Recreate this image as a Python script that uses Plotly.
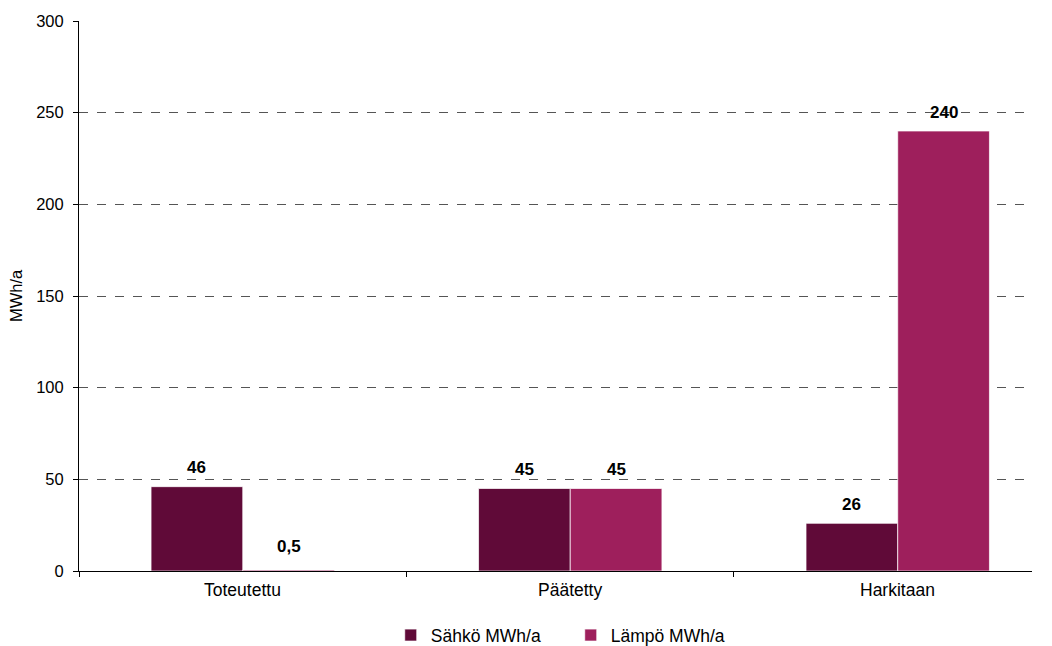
import plotly.graph_objects as go

categories = ["Toteutettu", "Päätetty", "Harkitaan"]
sahko = [46, 45, 26]
lampo = [0.5, 45, 240]
sahko_labels = ["46", "45", "26"]
lampo_labels = ["0,5", "45", "240"]
y_ticks = [0, 50, 100, 150, 200, 250, 300]

FONT = "Liberation Sans, Arial, sans-serif"
xpos = list(range(len(categories)))
BARGAP = 0.44
half = (1 - BARGAP) / 4  # centre offset of each bar within its group

fig = go.Figure()
fig.add_trace(go.Bar(
    x=xpos, y=sahko, name="Sähkö MWh/a",
    marker=dict(color="#600a38", line=dict(color="rgba(255,255,255,0.7)", width=1)),
))
fig.add_trace(go.Bar(
    x=xpos, y=lampo, name="Lämpö MWh/a",
    marker=dict(color="#9e1f5c", line=dict(color="rgba(255,255,255,0.7)", width=1)),
))

for i in xpos:
    for dx, val, lab in ((-half, sahko[i], sahko_labels[i]), (half, lampo[i], lampo_labels[i])):
        fig.add_annotation(x=i + dx, y=val, xref="x", yref="y", text=lab, showarrow=False,
                           yanchor="middle", yshift=19 if val > 1 else 24,
                           font=dict(family=FONT, size=17, color="#000000", weight="bold"))

# page has an 8px body margin, so the figure is 8px smaller than the window
fig.update_layout(
    width=1044, height=638,
    margin=dict(l=71, r=20, t=13, b=75, autoexpand=False),
    paper_bgcolor="white", plot_bgcolor="white",
    font=dict(family=FONT, size=16.5, color="#000000"),
    barmode="group", bargap=BARGAP, bargroupgap=0,
    showlegend=True,
    legend=dict(orientation="h", x=0.516, xanchor="center", y=-0.084, yanchor="top",
                font=dict(size=17.5), traceorder="normal", itemwidth=30, entrywidth=135),
)
fig.update_xaxes(
    range=[-0.5, 2.41], tickmode="array", tickvals=[-0.5, 0.5, 1.5], ticktext=["", "", ""],
    ticks="outside", ticklen=5, tickcolor="#000000", tickwidth=1,
    showline=True, linecolor="#000000", linewidth=1, showgrid=False, zeroline=False,
    fixedrange=True,
)
for i, c in enumerate(categories):
    fig.add_annotation(x=i, y=0, xref="x", yref="y", text=c, showarrow=False,
                       yanchor="middle", yshift=-19, font=dict(size=17.5, family=FONT))
fig.add_annotation(x=0, y=0.5, xref="paper", yref="paper", text="MWh/a", showarrow=False,
                   textangle=-90, xanchor="center", yanchor="middle", xshift=-63,
                   font=dict(size=16.5, family=FONT))
fig.update_yaxes(
    range=[0, 300], tickvals=y_ticks, ticks="outside", ticklen=5, tickcolor="#000000",
    showline=True, linecolor="#000000", linewidth=1, ticklabelstandoff=6,
    showgrid=True, gridcolor="#555555", griddash="dash", gridwidth=1, zeroline=False,
)
fig.write_html("out.html")
